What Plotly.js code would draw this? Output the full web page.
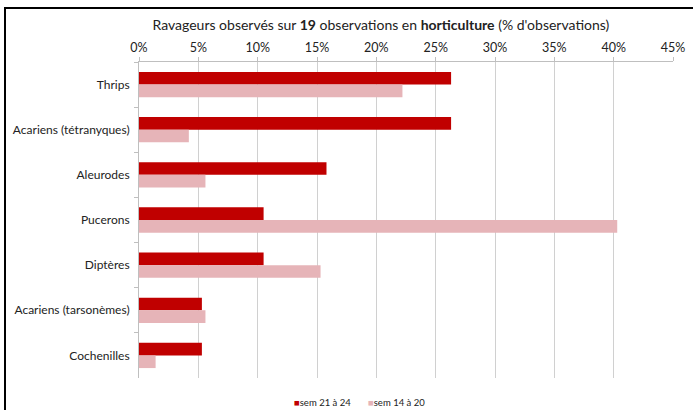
<!DOCTYPE html>
<html><head><meta charset="utf-8">
<script src="https://cdn.plot.ly/plotly-3.0.1.min.js"></script>
<style>
html,body{margin:0;padding:0;background:#fff;overflow:hidden;}
#chart{position:absolute;left:0;top:0;width:693px;height:410px;}
#frame{position:absolute;left:4px;top:7px;width:700px;height:420px;border:2px solid #000;pointer-events:none;box-sizing:border-box;}
</style></head>
<body>
<div id="chart"></div>
<div id="frame"></div>
<script>
const categories = ["Thrips","Acariens (tétranyques)","Aleurodes","Pucerons","Diptères","Acariens (tarsonèmes)","Cochenilles"];
const sem21a24 = [26.3, 26.3, 15.8, 10.5, 10.5, 5.3, 5.3];
const sem14a20 = [22.2, 4.2, 5.6, 40.3, 15.3, 5.6, 1.4];
const seriesNames = ["sem 21 à 24", "sem 14 à 20"];
const seriesColors = ['#C00000', '#E6B4B8'];
const xTicks = [0,5,10,15,20,25,30,35,40,45];

const font = "Lato, 'Open Sans', sans-serif";
const data = [
  {type:'bar', orientation:'h', y:categories, x:sem21a24, name:seriesNames[0], marker:{color:seriesColors[0]}},
  {type:'bar', orientation:'h', y:categories, x:sem14a20, name:seriesNames[1], marker:{color:seriesColors[1]}}
];
const legendX = [0.343, 0.482];
const legendAnnotations = seriesNames.map((n,i)=>({
  text:'<span style="color:'+seriesColors[i]+'">■</span>'+n,
  xref:'paper', yref:'paper', x:legendX[i], xanchor:'center', y:-0.055, yanchor:'top',
  showarrow:false, font:{size:9.5, color:'#222', family:font}
}));
const layout = {
  width:693, height:410,
  margin:{l:139, r:20, t:62, b:32, autoexpand:false},
  paper_bgcolor:'#fff', plot_bgcolor:'#fff',
  font:{family:font, color:'#222', size:12},
  title:{text:"Ravageurs observés sur <b>19</b> observations en <b>horticulture</b> (% d'observations)",
         font:{family:font, size:14, color:'#222'}, xref:'paper', x:0.453, xanchor:'center', yref:'container', y:0.94, yanchor:'middle'},
  barmode:'group', bargap:0.44, bargroupgap:0,
  xaxis:{side:'top', range:[0,45], tickvals:xTicks, ticktext:xTicks.map(v=>v+'%'),
         showgrid:true, gridcolor:'#D0D0D0', gridwidth:1, zeroline:false,
         showline:true, linecolor:'#BFBFBF', ticks:'outside', ticklen:4, tickcolor:'#BFBFBF',
         tickfont:{size:12.5, color:'#222'}, fixedrange:true, automargin:false},
  yaxis:{type:'category', autorange:'reversed', showline:true, linecolor:'#BFBFBF',
         ticks:'outside', tickson:'boundaries', ticklen:4, tickcolor:'#BFBFBF', showgrid:false,
         tickfont:{size:12, color:'#222'}, ticklabelstandoff:6, fixedrange:true, automargin:false},
  showlegend:false,
  annotations:legendAnnotations
};
Plotly.newPlot('chart', data, layout, {displayModeBar:false, staticPlot:true});
</script>
</body></html>
